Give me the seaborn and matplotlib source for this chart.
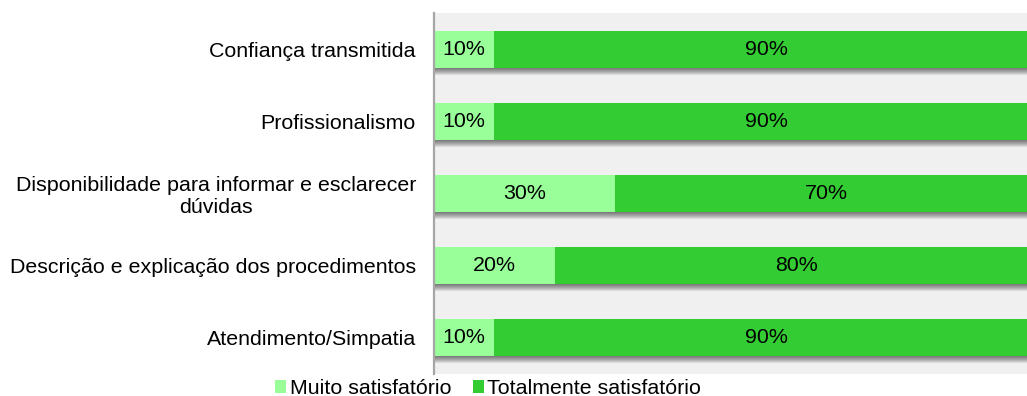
import matplotlib
matplotlib.use("Agg")
import matplotlib.pyplot as plt
import matplotlib.patheffects as pe
from matplotlib.patches import Patch
import seaborn as sns

# Satisfaction survey results (percent of responses)
categories = [
    "Confiança transmitida",
    "Profissionalismo",
    "Disponibilidade para informar e esclarecer\ndúvidas",
    "Descrição e explicação dos procedimentos",
    "Atendimento/Simpatia",
]
muito_satisfatorio = [10, 10, 30, 20, 10]
totalmente_satisfatorio = [90, 90, 70, 80, 90]
series_names = ["Muito satisfatório", "Totalmente satisfatório"]

LIGHT = "#99ff99"
DARK = "#33cc33"
FS = 15.4

sns.set_style("white")
plt.rcParams["font.family"] = ["Liberation Sans", "DejaVu Sans"]

fig = plt.figure(figsize=(10.27, 3.96), dpi=100)
ax = fig.add_axes([434 / 1027, 1 - 374 / 396, (1038 - 434) / 1027, (374 - 13) / 396])
ax.set_facecolor("#f0f0f0")

totals = [m + t for m, t in zip(muito_satisfatorio, totalmente_satisfatorio)]

# Full-length bar (dark) then the first segment drawn over it (light)
sns.barplot(x=totals, y=categories, orient="h", color=DARK, width=0.51,
            saturation=1, linewidth=0, ax=ax)
n_dark = len(ax.patches)
sns.barplot(x=muito_satisfatorio, y=categories, orient="h", color=LIGHT, width=0.51,
            saturation=1, linewidth=0, ax=ax)

# Soft drop shadow beneath each bar
shadow = [pe.SimplePatchShadow(offset=(0, -k * 0.72), shadow_rgbFace="black", alpha=0.085)
          for k in range(1, 8)]
for p in ax.patches[:n_dark]:
    p.set_path_effects(shadow + [pe.Normal()])

# Segment value labels
for i, (m, t) in enumerate(zip(muito_satisfatorio, totalmente_satisfatorio)):
    ax.text(m / 2, i, f"{m}%", ha="center", va="center", fontsize=FS, color="black")
    ax.text(m + t / 2, i, f"{t}%", ha="center", va="center", fontsize=FS, color="black")

ax.set_xlim(0, 100)
ax.set_ylim(4.5, -0.5)
ax.set_xlabel("")
ax.set_ylabel("")
ax.set_xticks([])
ax.tick_params(axis="y", length=0, pad=13, labelsize=FS, labelcolor="black")
for lbl in ax.get_yticklabels():
    lbl.set_multialignment("center")

for side in ["top", "right", "bottom"]:
    ax.spines[side].set_visible(False)
ax.spines["left"].set_color("#a6a6a6")
ax.spines["left"].set_linewidth(1.6)

handles = [Patch(facecolor=LIGHT, edgecolor="none"), Patch(facecolor=DARK, edgecolor="none")]
fig.legend(handles, series_names, ncol=2, loc="center",
           bbox_to_anchor=(488 / 1027, 1 - 388.5 / 396), frameon=False,
           fontsize=FS, labelcolor="black", handlelength=0.55, handleheight=0.55,
           handletextpad=0.15, columnspacing=1.0, borderpad=0, borderaxespad=0)

fig.savefig("out.png", dpi=100)
